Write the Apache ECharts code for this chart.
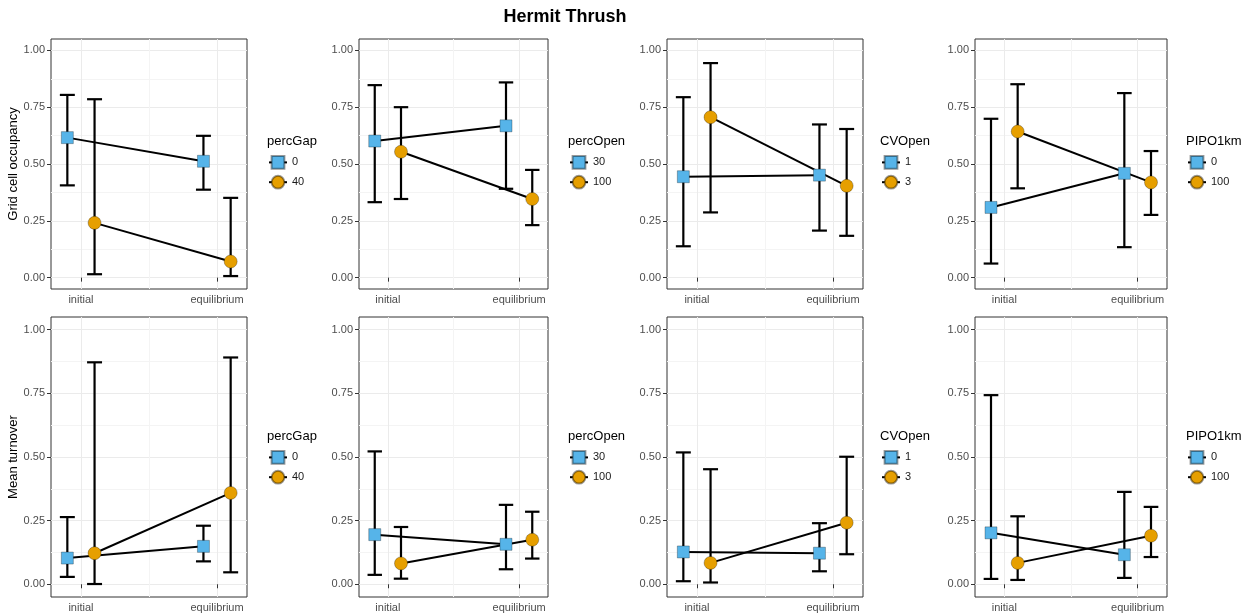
<!DOCTYPE html>
<html>
<head>
<meta charset="utf-8">
<title>Hermit Thrush</title>
<script src="https://cdn.jsdelivr.net/npm/echarts@6/dist/echarts.min.js"></script>
<style>
  html, body { margin: 0; padding: 0; background: #ffffff; }
  #chart { width: 1250px; height: 616px; }
</style>
</head>
<body>
<div id="chart"></div>
<script>
// ---- data -------------------------------------------------------------
const timeSteps = ['initial', 'equilibrium'];
const factorNames = ['percGap', 'percOpen', 'CVOpen', 'PIPO1km'];
const factorLevels = [['0', '40'], ['30', '100'], ['1', '3'], ['0', '100']];
const responseNames = ['Grid cell occupancy', 'Mean turnover'];
const yTicks = [0, 0.25, 0.5, 0.75, 1];
const yMinorTicks = [0.125, 0.375, 0.625, 0.875];

// [factor][level][time step]
const occMean = [
  [[0.616, 0.512], [0.241, 0.071]],
  [[0.601, 0.668], [0.554, 0.346]],
  [[0.444, 0.451], [0.706, 0.404]],
  [[0.309, 0.459], [0.643, 0.419]]
];
const occLower = [
  [[0.406, 0.387], [0.015, 0.007]],
  [[0.332, 0.391], [0.346, 0.231]],
  [[0.138, 0.207], [0.287, 0.184]],
  [[0.062, 0.134], [0.393, 0.276]]
];
const occUpper = [
  [[0.804, 0.624], [0.785, 0.351]],
  [[0.847, 0.859], [0.750, 0.474]],
  [[0.794, 0.674], [0.944, 0.654]],
  [[0.699, 0.812], [0.851, 0.557]]
];
const turnMean = [
  [[0.103, 0.149], [0.122, 0.359]],
  [[0.195, 0.157], [0.082, 0.175]],
  [[0.127, 0.122], [0.084, 0.242]],
  [[0.202, 0.116], [0.084, 0.191]]
];
const turnLower = [
  [[0.029, 0.090], [0.001, 0.047]],
  [[0.037, 0.059], [0.022, 0.101]],
  [[0.012, 0.051], [0.007, 0.118]],
  [[0.021, 0.025], [0.017, 0.107]]
];
const turnUpper = [
  [[0.264, 0.230], [0.872, 0.891]],
  [[0.522, 0.312], [0.225, 0.285]],
  [[0.518, 0.240], [0.452, 0.501]],
  [[0.743, 0.363], [0.267, 0.304]]
];

// ---- layout & style ---------------------------------------------------
const FONT = "'Liberation Sans', Arial, sans-serif";
const colLeft = [51, 359, 667, 975];
const colWidth = [196, 189, 196, 192];
const rowTop = [39, 317];
const rowHeight = [250, 280];
const legendLeft = [268, 569, 881, 1187];
const legendTitleTop = [135, 429.5];
const legendItemTop = [155, 450];
const X_MIN = 0.78, X_MAX = 2.22, Y_MIN = -0.05, Y_MAX = 1.05;
const DODGE = 0.1, CAP = 0.055;
const levelColors = ['#56B4E9', '#E69F00'];
const levelSymbols = ['rect', 'circle'];

const responses = [
  { mean: occMean, lower: occLower, upper: occUpper },
  { mean: turnMean, lower: turnLower, upper: turnUpper }
];

function renderErrorBar(params, api) {
  const x = api.value(0);
  const lo = api.value(1);
  const hi = api.value(2);
  const top = api.coord([x, hi]);
  const bot = api.coord([x, lo]);
  const xl = api.coord([x - CAP, hi])[0];
  const xr = api.coord([x + CAP, hi])[0];
  const style = { stroke: '#000000', lineWidth: 2.2 };
  return {
    type: 'group',
    children: [
      { type: 'line', shape: { x1: top[0], y1: top[1], x2: bot[0], y2: bot[1] }, style },
      { type: 'line', shape: { x1: xl, y1: top[1], x2: xr, y2: top[1] }, style },
      { type: 'line', shape: { x1: xl, y1: bot[1], x2: xr, y2: bot[1] }, style }
    ]
  };
}

const grids = [], xAxes = [], yAxes = [], series = [], legends = [], titles = [];

responses.forEach((resp, r) => {
  factorNames.forEach((factor, c) => {
    const g = grids.length;
    grids.push({
      left: colLeft[c], top: rowTop[r], width: colWidth[c], height: rowHeight[r],
      show: true, borderColor: '#333333', borderWidth: 1, backgroundColor: '#ffffff'
    });

    // main x axis: ticks, labels, major grid
    xAxes.push({
      type: 'value', gridIndex: g, min: X_MIN, max: X_MAX,
      axisLine: { show: false },
      axisTick: { show: true, customValues: [1, 2], length: 4, lineStyle: { color: '#333333', width: 1 } },
      axisLabel: {
        customValues: [1, 2], formatter: v => timeSteps[Math.round(v) - 1],
        color: '#4D4D4D', fontSize: 11, fontFamily: FONT, margin: 5
      },
      splitLine: { show: true, lineStyle: { color: '#EBEBEB', width: 1 } }
    });
    // minor x grid
    xAxes.push({
      type: 'value', gridIndex: g, min: X_MIN, max: X_MAX,
      axisLine: { show: false },
      axisTick: { show: false, customValues: [1.5] },
      axisLabel: { show: false, customValues: [1.5] },
      splitLine: { show: true, lineStyle: { color: '#F4F4F4', width: 1 } }
    });

    // main y axis
    yAxes.push({
      type: 'value', gridIndex: g, min: Y_MIN, max: Y_MAX,
      name: c === 0 ? responseNames[r] : '',
      nameLocation: 'middle', nameRotate: 90, nameGap: 22,
      nameTextStyle: { fontSize: 13, color: '#000000', fontFamily: FONT },
      axisLine: { show: false },
      axisTick: { show: true, customValues: yTicks, length: 4, lineStyle: { color: '#333333', width: 1 } },
      axisLabel: {
        customValues: yTicks, formatter: v => v.toFixed(2),
        color: '#4D4D4D', fontSize: 11, fontFamily: FONT, margin: 6
      },
      splitLine: { show: true, lineStyle: { color: '#EBEBEB', width: 1 } }
    });
    // minor y grid
    yAxes.push({
      type: 'value', gridIndex: g, min: Y_MIN, max: Y_MAX, position: 'left',
      axisLine: { show: false },
      axisTick: { show: false, customValues: yMinorTicks },
      axisLabel: { show: false, customValues: yMinorTicks },
      splitLine: { show: true, lineStyle: { color: '#F4F4F4', width: 1 } }
    });

    const levels = factorLevels[c];
    const ax = { xAxisIndex: 2 * g, yAxisIndex: 2 * g };
    levels.forEach((lvl, l) => {
      const offset = l === 0 ? -DODGE : DODGE;
      const xs = timeSteps.map((t, i) => i + 1 + offset);
      const pts = xs.map((x, i) => [x, resp.mean[c][l][i]]);
      const bars = xs.map((x, i) => [x, resp.lower[c][l][i], resp.upper[c][l][i]]);
      const itemStyle = {
        color: levelColors[l], borderColor: 'rgba(0,0,0,0.4)', borderWidth: 0.7, opacity: 1
      };

      series.push({
        type: 'line', name: lvl, ...ax, data: pts,
        symbol: levelSymbols[l], showSymbol: false,
        lineStyle: { color: '#000000', width: 2 }, itemStyle,
        z: 2, silent: true, animation: false
      });
      series.push({
        type: 'custom', name: 'errorbar', ...ax, data: bars,
        encode: { x: 0, y: [1, 2] }, renderItem: renderErrorBar,
        z: 1, silent: true, animation: false
      });
      series.push({
        type: 'scatter', name: lvl, ...ax, data: pts,
        symbol: levelSymbols[l], symbolSize: l === 0 ? 12 : 13, itemStyle,
        z: 3, silent: true, animation: false
      });
    });

    legends.push({
      data: levels.slice(), orient: 'vertical',
      left: legendLeft[c], top: legendItemTop[r],
      itemWidth: 18, itemHeight: 16, itemGap: 5, padding: 0,
      selectedMode: false,
      textStyle: { fontSize: 11, color: '#1A1A1A', fontFamily: FONT }
    });
    titles.push({
      text: factor, left: legendLeft[c] - 1, top: legendTitleTop[r], padding: 0,
      textStyle: { fontSize: 13, fontWeight: 'normal', color: '#000000', fontFamily: FONT }
    });
  });
});

const chart = echarts.init(document.getElementById('chart'), null, { renderer: 'canvas' });
chart.setOption({
  backgroundColor: '#ffffff',
  animation: false,
  title: titles,
  legend: legends,
  grid: grids,
  xAxis: xAxes,
  yAxis: yAxes,
  series: series,
  graphic: [{
    type: 'text', x: 565, y: 17,
    style: {
      text: 'Hermit Thrush', fill: '#000000',
      font: "bold 18px 'Liberation Sans', Arial, sans-serif",
      align: 'center', verticalAlign: 'middle'
    }
  }]
});
</script>
</body>
</html>
